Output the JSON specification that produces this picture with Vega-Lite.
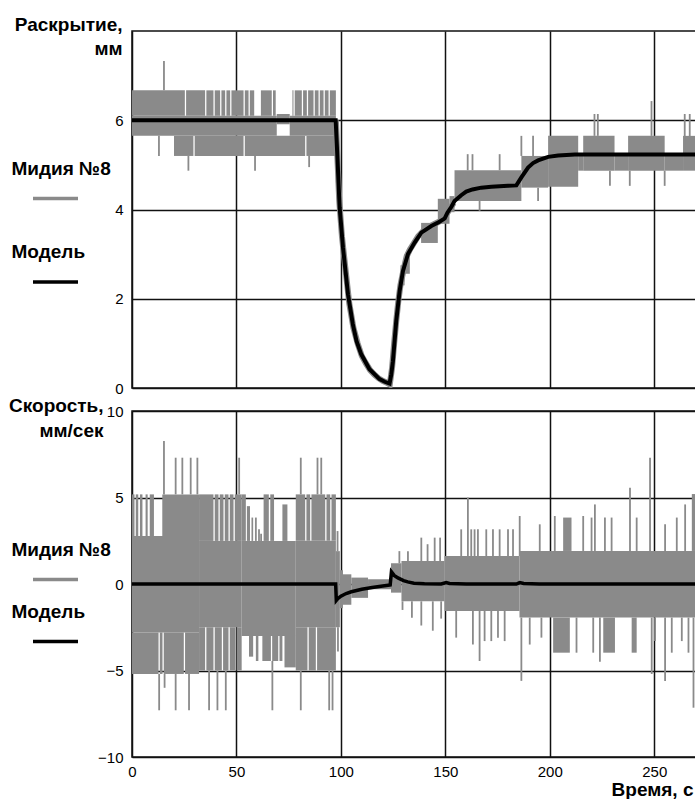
{
  "$schema": "https://vega.github.io/schema/vega-lite/v6.json",
  "padding": {"left": 7, "top": 14, "right": 0, "bottom": 0},
  "background": "white",
  "spacing": 23,
  "bounds": "flush",
  "config": {
    "view": {"stroke": "#111111", "strokeWidth": 1.5},
    "axis": {
      "grid": true, "gridColor": "#111111", "gridWidth": 1.5, "gridOpacity": 1,
      "ticks": false, "domain": false, "zindex": 1,
      "labelFont": "Liberation Sans", "labelFontSize": 15, "labelColor": "#000000",
      "titleFont": "Liberation Sans", "titleFontSize": 19, "titleFontWeight": "bold", "titleColor": "#000000"
    }
  },
  "resolve": {
    "scale": {"color": "independent", "x": "independent", "y": "independent"},
    "legend": {"color": "independent"}
  },
  "datasets": {
    "open_model": [
      {"t": 0, "v": 6.0, "series": "Модель"}, {"t": 97.5, "v": 6.0, "series": "Модель"}, {"t": 98.4, "v": 5.1, "series": "Модель"},
      {"t": 99.4, "v": 4.05, "series": "Модель"}, {"t": 101, "v": 3.15, "series": "Модель"}, {"t": 103.4, "v": 2.1, "series": "Модель"},
      {"t": 105.7, "v": 1.43, "series": "Модель"}, {"t": 107.5, "v": 1.05, "series": "Модель"}, {"t": 109.7, "v": 0.76, "series": "Модель"},
      {"t": 113.7, "v": 0.42, "series": "Модель"}, {"t": 118.5, "v": 0.2, "series": "Модель"}, {"t": 121, "v": 0.14, "series": "Модель"},
      {"t": 123.3, "v": 0.1, "series": "Модель"}, {"t": 124.1, "v": 0.3, "series": "Модель"}, {"t": 124.9, "v": 0.6, "series": "Модель"},
      {"t": 126.5, "v": 1.5, "series": "Модель"}, {"t": 128.1, "v": 2.17, "series": "Модель"}, {"t": 129.7, "v": 2.62, "series": "Модель"},
      {"t": 132.1, "v": 3.0, "series": "Модель"}, {"t": 135.3, "v": 3.26, "series": "Модель"}, {"t": 138.5, "v": 3.48, "series": "Модель"},
      {"t": 143.3, "v": 3.63, "series": "Модель"}, {"t": 147, "v": 3.72, "series": "Модель"}, {"t": 149.7, "v": 3.8, "series": "Модель"},
      {"t": 151, "v": 3.93, "series": "Модель"}, {"t": 152.9, "v": 4.06, "series": "Модель"}, {"t": 154.4, "v": 4.19, "series": "Модель"},
      {"t": 157.6, "v": 4.32, "series": "Модель"}, {"t": 160, "v": 4.4, "series": "Модель"}, {"t": 163, "v": 4.45, "series": "Модель"},
      {"t": 167.2, "v": 4.49, "series": "Модель"}, {"t": 172, "v": 4.51, "series": "Модель"}, {"t": 180, "v": 4.53, "series": "Модель"},
      {"t": 184, "v": 4.54, "series": "Модель"}, {"t": 186.4, "v": 4.72, "series": "Модель"}, {"t": 189.6, "v": 4.94, "series": "Модель"},
      {"t": 192, "v": 5.04, "series": "Модель"}, {"t": 194.4, "v": 5.1, "series": "Модель"}, {"t": 199.2, "v": 5.18, "series": "Модель"},
      {"t": 204, "v": 5.21, "series": "Модель"}, {"t": 212, "v": 5.23, "series": "Модель"}, {"t": 270, "v": 5.23, "series": "Модель"}
    ],
    "open_trace": [
      {"t": 97.6, "v": 6.0}, {"t": 98.3, "v": 5.2}, {"t": 99.2, "v": 4.2}, {"t": 100.5, "v": 3.4}, {"t": 102, "v": 2.75},
      {"t": 104, "v": 1.9}, {"t": 106, "v": 1.35}, {"t": 108, "v": 1.0}, {"t": 110, "v": 0.72}, {"t": 112, "v": 0.55},
      {"t": 114, "v": 0.4}, {"t": 116, "v": 0.3}, {"t": 118, "v": 0.22}, {"t": 120, "v": 0.16}, {"t": 122, "v": 0.12},
      {"t": 123.4, "v": 0.08}, {"t": 124.5, "v": 0.45}, {"t": 125.5, "v": 1.0}, {"t": 126.5, "v": 1.5}, {"t": 127.5, "v": 1.95},
      {"t": 128.5, "v": 2.3}, {"t": 130, "v": 2.65}, {"t": 131.5, "v": 2.95}, {"t": 133, "v": 3.1}, {"t": 135, "v": 3.25},
      {"t": 137, "v": 3.4}, {"t": 139, "v": 3.5}, {"t": 141, "v": 3.58}, {"t": 143, "v": 3.63}, {"t": 145, "v": 3.68},
      {"t": 148, "v": 3.75}, {"t": 150, "v": 3.85}, {"t": 152, "v": 4.0}, {"t": 154, "v": 4.15}
    ],
    "open_bands": [
      {"t0": 0, "t1": 69.3, "lo": 5.65, "hi": 6.1}, {"t0": 75.5, "t1": 97.6, "lo": 5.65, "hi": 6.1}, {"t0": 69.3, "t1": 75.5, "lo": 5.91, "hi": 6.14},
      {"t0": 20.1, "t1": 29.4, "lo": 5.2, "hi": 5.65}, {"t0": 30, "t1": 53.4, "lo": 5.2, "hi": 5.65}, {"t0": 54, "t1": 82.9, "lo": 5.2, "hi": 5.65},
      {"t0": 83.5, "t1": 97.6, "lo": 5.2, "hi": 5.65},
      {"t0": 0, "t1": 25.3, "lo": 6.1, "hi": 6.67}, {"t0": 25.9, "t1": 35, "lo": 6.1, "hi": 6.67}, {"t0": 35.6, "t1": 39, "lo": 6.1, "hi": 6.67},
      {"t0": 39.6, "t1": 42.2, "lo": 6.1, "hi": 6.67}, {"t0": 42.8, "t1": 44.6, "lo": 6.1, "hi": 6.67}, {"t0": 45.2, "t1": 47, "lo": 6.1, "hi": 6.67},
      {"t0": 47.6, "t1": 53.4, "lo": 6.1, "hi": 6.67}, {"t0": 54, "t1": 55.8, "lo": 6.1, "hi": 6.67}, {"t0": 56.4, "t1": 58.5, "lo": 6.1, "hi": 6.67},
      {"t0": 61.7, "t1": 66.9, "lo": 6.1, "hi": 6.67}, {"t0": 67.5, "t1": 68.8, "lo": 6.1, "hi": 6.67}, {"t0": 76.8, "t1": 77.3, "lo": 6.1, "hi": 6.67},
      {"t0": 77.9, "t1": 81.3, "lo": 6.1, "hi": 6.67}, {"t0": 81.9, "t1": 83.7, "lo": 6.1, "hi": 6.67}, {"t0": 84.3, "t1": 86.9, "lo": 6.1, "hi": 6.67},
      {"t0": 87.5, "t1": 89.3, "lo": 6.1, "hi": 6.67}, {"t0": 89.9, "t1": 91.7, "lo": 6.1, "hi": 6.67}, {"t0": 92.3, "t1": 94.1, "lo": 6.1, "hi": 6.67},
      {"t0": 94.7, "t1": 97.6, "lo": 6.1, "hi": 6.67},
      {"t0": 97.6, "t1": 98.6, "lo": 4.6, "hi": 6.0}, {"t0": 128.5, "t1": 130.5, "lo": 2.3, "hi": 2.75}, {"t0": 130.5, "t1": 133, "lo": 2.56, "hi": 3.0},
      {"t0": 138.4, "t1": 146.4, "lo": 3.25, "hi": 3.7}, {"t0": 146.4, "t1": 152, "lo": 3.68, "hi": 4.24}, {"t0": 152, "t1": 154.4, "lo": 3.94, "hi": 4.3},
      {"t0": 154.4, "t1": 186.4, "lo": 4.19, "hi": 4.88}, {"t0": 186.4, "t1": 199.2, "lo": 4.49, "hi": 5.2}, {"t0": 199.2, "t1": 213.6, "lo": 4.51, "hi": 5.65},
      {"t0": 213.6, "t1": 216, "lo": 4.87, "hi": 5.2}, {"t0": 216, "t1": 231, "lo": 4.87, "hi": 5.65}, {"t0": 231, "t1": 237.5, "lo": 4.87, "hi": 5.2},
      {"t0": 237.5, "t1": 255, "lo": 4.87, "hi": 5.65}, {"t0": 255, "t1": 263.8, "lo": 4.87, "hi": 5.2}, {"t0": 263.8, "t1": 270, "lo": 4.87, "hi": 5.65}
    ],
    "open_spikes": [
      {"t": 12.9, "lo": 5.2, "hi": 5.65}, {"t": 15.3, "lo": 6.67, "hi": 7.33}, {"t": 27, "lo": 4.87, "hi": 5.2}, {"t": 58.9, "lo": 4.87, "hi": 5.2},
      {"t": 84.8, "lo": 4.95, "hi": 5.2}, {"t": 160.7, "lo": 4.88, "hi": 5.24}, {"t": 163, "lo": 4.88, "hi": 5.24}, {"t": 166.4, "lo": 3.97, "hi": 4.19},
      {"t": 176, "lo": 4.88, "hi": 5.24}, {"t": 186.4, "lo": 5.2, "hi": 5.65}, {"t": 192, "lo": 5.2, "hi": 5.65}, {"t": 194.4, "lo": 4.19, "hi": 4.49},
      {"t": 221.4, "lo": 5.65, "hi": 6.14}, {"t": 223, "lo": 5.65, "hi": 6.14}, {"t": 228.8, "lo": 4.53, "hi": 4.87}, {"t": 238.3, "lo": 4.53, "hi": 4.87},
      {"t": 248.7, "lo": 5.65, "hi": 6.43}, {"t": 255, "lo": 4.53, "hi": 4.87}, {"t": 264.6, "lo": 5.2, "hi": 6.14}, {"t": 267, "lo": 5.2, "hi": 6.14}
    ],
    "vel_model": [
      {"t": 0, "v": 0, "series": "Модель"}, {"t": 97.5, "v": 0, "series": "Модель"}, {"t": 97.8, "v": -0.95, "series": "Модель"},
      {"t": 98.5, "v": -0.85, "series": "Модель"}, {"t": 100, "v": -0.7, "series": "Модель"}, {"t": 102.5, "v": -0.55, "series": "Модель"},
      {"t": 105, "v": -0.45, "series": "Модель"}, {"t": 110, "v": -0.3, "series": "Модель"}, {"t": 115, "v": -0.2, "series": "Модель"},
      {"t": 120, "v": -0.12, "series": "Модель"}, {"t": 123.6, "v": -0.06, "series": "Модель"}, {"t": 124.2, "v": 0.7, "series": "Модель"},
      {"t": 125.5, "v": 0.5, "series": "Модель"}, {"t": 127.3, "v": 0.35, "series": "Модель"}, {"t": 130, "v": 0.2, "series": "Модель"},
      {"t": 132, "v": 0.12, "series": "Модель"}, {"t": 135, "v": 0.05, "series": "Модель"}, {"t": 140, "v": 0.02, "series": "Модель"},
      {"t": 148, "v": 0, "series": "Модель"}, {"t": 150.4, "v": 0.08, "series": "Модель"}, {"t": 152, "v": 0.03, "series": "Модель"},
      {"t": 160, "v": 0, "series": "Модель"}, {"t": 184, "v": 0, "series": "Модель"}, {"t": 185.6, "v": 0.08, "series": "Модель"},
      {"t": 187.5, "v": 0.03, "series": "Модель"}, {"t": 195, "v": 0, "series": "Модель"}, {"t": 270, "v": 0, "series": "Модель"}
    ],
    "vel_bands": [
      {"t0": 0, "t1": 32.1, "lo": -2.8, "hi": 2.77},
      {"t0": 0, "t1": 12.7, "lo": -5.2, "hi": -2.8}, {"t0": 13.3, "t1": 14.6, "lo": -5.2, "hi": -2.8}, {"t0": 15.2, "t1": 24.8, "lo": -5.2, "hi": -2.8},
      {"t0": 25.4, "t1": 32.1, "lo": -5.2, "hi": -2.8},
      {"t0": 0, "t1": 1.2, "lo": 2.77, "hi": 5.18}, {"t0": 1.8, "t1": 3, "lo": 2.77, "hi": 5.18}, {"t0": 3.8, "t1": 5, "lo": 2.77, "hi": 5.18},
      {"t0": 6.5, "t1": 7.5, "lo": 2.77, "hi": 5.18}, {"t0": 8.5, "t1": 10.5, "lo": 2.77, "hi": 5.18}, {"t0": 14.5, "t1": 32.1, "lo": 2.77, "hi": 5.18},
      {"t0": 32.1, "t1": 52.5, "lo": -2.5, "hi": 2.49},
      {"t0": 32.1, "t1": 39, "lo": 2.49, "hi": 5.18}, {"t0": 39.6, "t1": 41.4, "lo": 2.49, "hi": 5.18}, {"t0": 42, "t1": 43.8, "lo": 2.49, "hi": 5.18},
      {"t0": 44.4, "t1": 46.2, "lo": 2.49, "hi": 5.18}, {"t0": 46.8, "t1": 48.6, "lo": 2.49, "hi": 5.18}, {"t0": 49.2, "t1": 52.5, "lo": 2.49, "hi": 5.18},
      {"t0": 32.1, "t1": 35, "lo": -5.0, "hi": -2.5}, {"t0": 35.6, "t1": 39, "lo": -5.0, "hi": -2.5}, {"t0": 39.6, "t1": 43, "lo": -5.0, "hi": -2.5},
      {"t0": 43.6, "t1": 46.2, "lo": -5.0, "hi": -2.5}, {"t0": 46.8, "t1": 49.5, "lo": -5.0, "hi": -2.5}, {"t0": 50.1, "t1": 52.5, "lo": -5.0, "hi": -2.5},
      {"t0": 52.5, "t1": 78.4, "lo": -3.0, "hi": 2.49},
      {"t0": 52.5, "t1": 54.5, "lo": 2.49, "hi": 5.18}, {"t0": 55, "t1": 56.5, "lo": 2.49, "hi": 4.5}, {"t0": 57.2, "t1": 58, "lo": 2.49, "hi": 3.84},
      {"t0": 63, "t1": 65.5, "lo": 2.49, "hi": 5.18}, {"t0": 66.2, "t1": 68, "lo": 2.49, "hi": 5.18}, {"t0": 72, "t1": 74.4, "lo": 2.49, "hi": 4.6},
      {"t0": 56, "t1": 58, "lo": -4.2, "hi": -3.0}, {"t0": 59.3, "t1": 60.5, "lo": -4.45, "hi": -3.0}, {"t0": 62.4, "t1": 66.5, "lo": -4.45, "hi": -3.0},
      {"t0": 67.1, "t1": 70, "lo": -4.45, "hi": -3.0}, {"t0": 70.6, "t1": 72, "lo": -4.45, "hi": -3.0}, {"t0": 73, "t1": 78.4, "lo": -4.82, "hi": -3.0},
      {"t0": 78.4, "t1": 97.6, "lo": -2.5, "hi": 2.5},
      {"t0": 78.4, "t1": 82.9, "lo": 2.5, "hi": 5.18}, {"t0": 83.5, "t1": 85.3, "lo": 2.5, "hi": 5.18}, {"t0": 85.9, "t1": 92.5, "lo": 2.5, "hi": 5.18},
      {"t0": 93.1, "t1": 94.9, "lo": 2.5, "hi": 5.18}, {"t0": 95.5, "t1": 97.6, "lo": 2.5, "hi": 5.18},
      {"t0": 78.4, "t1": 84, "lo": -5.0, "hi": -2.5}, {"t0": 84.6, "t1": 88, "lo": -5.0, "hi": -2.5}, {"t0": 88.6, "t1": 97.6, "lo": -5.0, "hi": -2.5},
      {"t0": 97.6, "t1": 99.5, "lo": -2.5, "hi": 1.9}, {"t0": 99.5, "t1": 101, "lo": -1.4, "hi": 0.8}, {"t0": 101, "t1": 105, "lo": -1.2, "hi": 0.56},
      {"t0": 105, "t1": 113, "lo": -0.8, "hi": 0.37}, {"t0": 113, "t1": 124, "lo": -0.3, "hi": 0.27}, {"t0": 124, "t1": 129, "lo": -0.5, "hi": 1.2},
      {"t0": 129, "t1": 149.6, "lo": -1.0, "hi": 1.33}, {"t0": 149.6, "t1": 185.5, "lo": -1.56, "hi": 1.62}, {"t0": 185.5, "t1": 270, "lo": -1.94, "hi": 1.91},
      {"t0": 206.4, "t1": 210.4, "lo": 1.91, "hi": 3.84}, {"t0": 201.6, "t1": 209.6, "lo": -3.97, "hi": -1.94}, {"t0": 225.6, "t1": 231.2, "lo": -3.97, "hi": -1.94},
      {"t0": 239.2, "t1": 241.6, "lo": -3.97, "hi": -1.94}, {"t0": 268, "t1": 270, "lo": 1.91, "hi": 5.2}
    ],
    "vel_spikes": [
      {"t": 15.3, "lo": 5.18, "hi": 8.27}, {"t": 20.9, "lo": 5.18, "hi": 7.3}, {"t": 24.1, "lo": 5.18, "hi": 7.3}, {"t": 28.1, "lo": 5.18, "hi": 7.3},
      {"t": 31.3, "lo": 5.18, "hi": 7.3}, {"t": 51.3, "lo": 5.18, "hi": 7.3}, {"t": 80.8, "lo": 5.18, "hi": 7.3}, {"t": 88.8, "lo": 5.18, "hi": 7.3},
      {"t": 90.6, "lo": 5.18, "hi": 7.3}, {"t": 98.4, "lo": 1.9, "hi": 3.06}, {"t": 59.3, "lo": 2.49, "hi": 3.84}, {"t": 60.8, "lo": 2.49, "hi": 3.16},
      {"t": 61.8, "lo": 2.49, "hi": 2.9},
      {"t": 13, "lo": -7.3, "hi": -5.2}, {"t": 15.6, "lo": -6.0, "hi": -5.2}, {"t": 20.9, "lo": -7.3, "hi": -5.2}, {"t": 27.3, "lo": -7.3, "hi": -5.2},
      {"t": 36.9, "lo": -7.3, "hi": -5.0}, {"t": 40.9, "lo": -7.3, "hi": -5.0}, {"t": 44.9, "lo": -7.3, "hi": -5.0}, {"t": 67.2, "lo": -7.3, "hi": -4.45},
      {"t": 80.8, "lo": -7.3, "hi": -5.0}, {"t": 94.4, "lo": -7.3, "hi": -5.0}, {"t": 96, "lo": -7.3, "hi": -5.0}, {"t": 98.6, "lo": -3.9, "hi": -2.5},
      {"t": 128, "lo": 1.2, "hi": 1.9}, {"t": 132.1, "lo": 1.33, "hi": 1.9}, {"t": 138.5, "lo": 1.33, "hi": 2.68}, {"t": 141.5, "lo": 1.33, "hi": 2.3},
      {"t": 144.9, "lo": 1.33, "hi": 2.68}, {"t": 147.5, "lo": 1.33, "hi": 2.68}, {"t": 157.6, "lo": 1.62, "hi": 3.16}, {"t": 160.8, "lo": 1.62, "hi": 5.0},
      {"t": 162.4, "lo": 1.62, "hi": 3.16}, {"t": 164, "lo": 1.62, "hi": 3.16}, {"t": 165.6, "lo": 1.62, "hi": 3.16}, {"t": 169.6, "lo": 1.62, "hi": 3.16},
      {"t": 172.8, "lo": 1.62, "hi": 3.16}, {"t": 176, "lo": 1.62, "hi": 3.16}, {"t": 180, "lo": 1.62, "hi": 3.16}, {"t": 182.4, "lo": 1.62, "hi": 3.16},
      {"t": 185.6, "lo": 1.62, "hi": 3.93}, {"t": 195.2, "lo": 1.91, "hi": 3.45}, {"t": 202.4, "lo": 1.91, "hi": 3.93}, {"t": 216, "lo": 1.91, "hi": 3.93},
      {"t": 220, "lo": 1.91, "hi": 3.84}, {"t": 221.6, "lo": 1.91, "hi": 4.6}, {"t": 226.4, "lo": 1.91, "hi": 3.84}, {"t": 229.6, "lo": 1.91, "hi": 3.84},
      {"t": 238.4, "lo": 1.91, "hi": 5.57}, {"t": 241.6, "lo": 1.91, "hi": 3.84}, {"t": 248, "lo": 1.91, "hi": 7.3}, {"t": 255.2, "lo": 1.91, "hi": 3.45},
      {"t": 260.8, "lo": 1.91, "hi": 3.84}, {"t": 264.8, "lo": 1.91, "hi": 4.6},
      {"t": 129.5, "lo": -1.5, "hi": -1.0}, {"t": 134, "lo": -1.95, "hi": -1.0}, {"t": 138.5, "lo": -2.4, "hi": -1.0}, {"t": 144, "lo": -2.7, "hi": -1.0},
      {"t": 148, "lo": -2.0, "hi": -1.0}, {"t": 155.2, "lo": -3.1, "hi": -1.56}, {"t": 163.2, "lo": -3.5, "hi": -1.56}, {"t": 166.4, "lo": -4.45, "hi": -1.56},
      {"t": 168.8, "lo": -3.3, "hi": -1.56}, {"t": 172, "lo": -3.3, "hi": -1.56}, {"t": 175.2, "lo": -3.1, "hi": -1.56}, {"t": 178.4, "lo": -3.3, "hi": -1.56},
      {"t": 186.4, "lo": -5.6, "hi": -1.94}, {"t": 190.4, "lo": -3.5, "hi": -1.94}, {"t": 196, "lo": -3.1, "hi": -1.94}, {"t": 212.8, "lo": -3.97, "hi": -1.94},
      {"t": 220.8, "lo": -3.97, "hi": -1.94}, {"t": 224, "lo": -4.5, "hi": -1.94}, {"t": 248.8, "lo": -5.2, "hi": -1.94}, {"t": 250.4, "lo": -3.3, "hi": -1.94},
      {"t": 255.2, "lo": -5.6, "hi": -1.94}, {"t": 258.4, "lo": -3.97, "hi": -1.94}, {"t": 263.2, "lo": -3.3, "hi": -1.94}, {"t": 266.4, "lo": -3.97, "hi": -1.94},
      {"t": 268.8, "lo": -7.15, "hi": -1.94}
    ]
  },
  "vconcat": [
    {
      "width": 564,
      "height": 357,
      "layer": [
        {
          "data": {"name": "open_bands"},
          "mark": {"type": "rect", "color": "#8a8a8a", "clip": true},
          "encoding": {
            "x": {"field": "t0", "type": "quantitative", "scale": {"domain": [0, 270], "nice": false, "zero": false},
                  "axis": {"values": [0, 50, 100, 150, 200, 250], "labels": false, "title": null}},
            "x2": {"field": "t1"},
            "y": {"field": "lo", "type": "quantitative", "scale": {"domain": [0, 8], "nice": false, "zero": false},
                  "axis": {"values": [0, 2, 4, 6], "labelPadding": 9, "title": ["Раскрытие,", "мм"], "titleAngle": 0, "titleAlign": "right",
                           "titleBaseline": "alphabetic", "titleX": -10, "titleY": -1, "titleLineHeight": 24}},
            "y2": {"field": "hi"}
          }
        },
        {
          "data": {"name": "open_spikes"},
          "mark": {"type": "rule", "color": "#8a8a8a", "strokeWidth": 1.8, "clip": true},
          "encoding": {
            "x": {"field": "t", "type": "quantitative"},
            "y": {"field": "lo", "type": "quantitative"},
            "y2": {"field": "hi"}
          }
        },
        {
          "data": {"name": "open_trace"},
          "mark": {"type": "line", "color": "#8a8a8a", "strokeWidth": 6, "clip": true},
          "encoding": {
            "x": {"field": "t", "type": "quantitative"},
            "y": {"field": "v", "type": "quantitative"}
          }
        },
        {
          "data": {"name": "open_model"},
          "mark": {"type": "line", "strokeWidth": 4, "clip": true},
          "encoding": {
            "x": {"field": "t", "type": "quantitative"},
            "y": {"field": "v", "type": "quantitative"},
            "color": {
              "field": "series", "type": "nominal",
              "scale": {"domain": ["Мидия №8", "Модель"], "range": ["#8a8a8a", "#000000"]},
              "legend": {
                "orient": "none", "legendX": -121, "legendY": 113, "title": null, "padding": 0,
                "symbolType": "M-1,1.333L1,1.333", "symbolSize": 2025, "symbolStrokeWidth": 3.5, "symbolOffset": 20,
                "labelOffset": -68.5, "labelFont": "Liberation Sans", "labelFontSize": 19, "labelFontWeight": "bold",
                "labelColor": "#000000", "rowPadding": 21.5
              }
            }
          }
        }
      ]
    },
    {
      "width": 564,
      "height": 346,
      "layer": [
        {
          "data": {"name": "vel_bands"},
          "mark": {"type": "rect", "color": "#8a8a8a", "clip": true},
          "encoding": {
            "x": {"field": "t0", "type": "quantitative", "scale": {"domain": [0, 270], "nice": false, "zero": false},
                  "axis": {"values": [0, 50, 100, 150, 200, 250], "labelPadding": 7, "labelFlush": false, "title": "Время, с",
                           "titleAlign": "right", "titleX": 561, "titlePadding": 1}},
            "x2": {"field": "t1"},
            "y": {"field": "lo", "type": "quantitative", "scale": {"domain": [-10, 10], "nice": false, "zero": false},
                  "axis": {"values": [-10, -5, 0, 5, 10], "labelPadding": 9, "title": ["Скорость,", "мм/сек"], "titleAngle": 0, "titleAlign": "right",
                           "titleBaseline": "alphabetic", "titleX": -29, "titleY": 0, "titleLineHeight": 25}},
            "y2": {"field": "hi"}
          }
        },
        {
          "data": {"name": "vel_spikes"},
          "mark": {"type": "rule", "color": "#8a8a8a", "strokeWidth": 1.8, "clip": true},
          "encoding": {
            "x": {"field": "t", "type": "quantitative"},
            "y": {"field": "lo", "type": "quantitative"},
            "y2": {"field": "hi"}
          }
        },
        {
          "data": {"name": "vel_model"},
          "mark": {"type": "line", "strokeWidth": 3.5, "clip": true},
          "encoding": {
            "x": {"field": "t", "type": "quantitative"},
            "y": {"field": "v", "type": "quantitative"},
            "color": {
              "field": "series", "type": "nominal",
              "scale": {"domain": ["Мидия №8", "Модель"], "range": ["#8a8a8a", "#000000"]},
              "legend": {
                "orient": "none", "legendX": -121, "legendY": 114, "title": null, "padding": 0,
                "symbolType": "M-1,1.333L1,1.333", "symbolSize": 2025, "symbolStrokeWidth": 3.5, "symbolOffset": 20,
                "labelOffset": -68.5, "labelFont": "Liberation Sans", "labelFontSize": 19, "labelFontWeight": "bold",
                "labelColor": "#000000", "rowPadding": -10.5
              }
            }
          }
        }
      ]
    }
  ]
}
